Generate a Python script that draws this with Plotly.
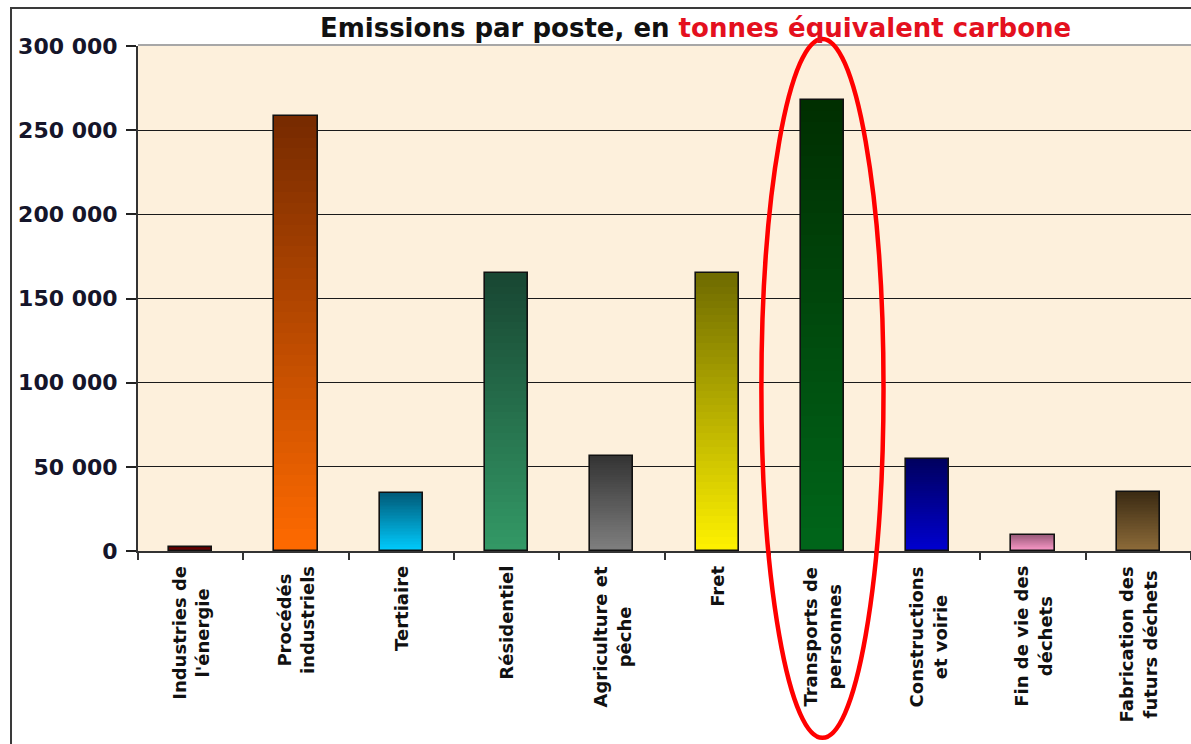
import plotly.graph_objects as go

# données
categories = [
    "Industries de l'énergie", "Procédés industriels", "Tertiaire", "Résidentiel",
    "Agriculture et pêche", "Fret", "Transports de personnes",
    "Constructions et voirie", "Fin de vie des déchets", "Fabrication des futurs déchets",
]
labels = [
    "Industries de<br>l'énergie", "Procédés<br>industriels", "Tertiaire", "Résidentiel",
    "Agriculture et<br>pêche", "Fret", "Transports de<br>personnes",
    "Constructions<br>et voirie", "Fin de vie des<br>déchets", "Fabrication des<br>futurs déchets",
]
emissions = [2500, 258500, 34500, 165000, 56500, 165000, 268000, 54800, 9500, 35200]
y_ticks = [0, 50000, 100000, 150000, 200000, 250000, 300000]

# dégradés : couleur en haut / couleur en bas
top_colors = ["#4a0000", "#762a00", "#005a78", "#184632", "#333333",
              "#6e6a00", "#002e00", "#00005e", "#9a5a7a", "#3a2a12"]
bottom_colors = ["#8a0000", "#ff6a00", "#00ccff", "#339966", "#808080",
                 "#fff200", "#00661a", "#0000d0", "#ff9ccc", "#8e6c3a"]

FONT = "DejaVu Sans, Verdana, sans-serif"
BAR_W = 0.41
N_STEPS = 40


def hex_rgb(h):
    h = h.lstrip("#")
    return [int(h[i:i + 2], 16) for i in (0, 2, 4)]


def mix(c_bottom, c_top, t):
    a, b = hex_rgb(c_bottom), hex_rgb(c_top)
    r = [round(a[i] + (b[i] - a[i]) * t) for i in range(3)]
    return f"rgb({r[0]},{r[1]},{r[2]})"


fig = go.Figure()

# dégradé vertical : barres superposées de plus en plus courtes
for k in range(N_STEPS):
    frac = (N_STEPS - k) / N_STEPS
    t = (N_STEPS - k - 0.5) / N_STEPS
    fig.add_trace(
        go.Bar(
            x=categories,
            y=[v * frac for v in emissions],
            width=BAR_W,
            marker=dict(
                color=[mix(b, tc, t) for b, tc in zip(bottom_colors, top_colors)],
                line=dict(width=0),
            ),
            hoverinfo="skip",
            showlegend=False,
        )
    )

# contour des barres
fig.add_trace(
    go.Bar(
        x=categories,
        y=emissions,
        width=BAR_W,
        marker=dict(color="rgba(0,0,0,0)", line=dict(color="#111111", width=1.6)),
        hovertemplate="%{x}<br>%{y:,} tCO2e<extra></extra>",
        showlegend=False,
    )
)

for cat, lab in zip(categories, labels):
    fig.add_annotation(
        x=cat, y=-0.026, xref="x", yref="paper",
        text=lab, textangle=-90, showarrow=False,
        xanchor="center", yanchor="top", align="center",
        font=dict(family=FONT, size=18, color="#111111", weight="bold"),
    )

# cadre extérieur
fig.add_shape(type="rect", xref="paper", yref="paper",
              x0=-0.1206, x1=1.05, y0=-0.6, y1=1.0752,
              line=dict(color="#3a3a3a", width=2), layer="above")
# bord supérieur de la zone de tracé
fig.add_shape(type="line", xref="paper", yref="paper",
              x0=0, x1=1.05, y0=1.002, y1=1.002,
              line=dict(color="#8a8a8a", width=1.5))
# ellipse rouge autour des transports de personnes
fig.add_shape(type="circle", xref="x", yref="paper",
              x0=5.42, x1=6.58, y0=-0.370, y1=1.014,
              line=dict(color="#ff0000", width=4.5), layer="above")

fig.update_layout(
    width=1191, height=744,
    barmode="overlay",
    bargap=0,
    separators=", ",
    paper_bgcolor="white",
    plot_bgcolor="#fdf0dc",
    margin=dict(l=138, r=0, t=46, b=193),
    font=dict(family=FONT, color="#111111"),
    title=dict(
        text="Emissions par poste, en <span style='color:#e4101e'>tonnes équivalent carbone</span>",
        font=dict(family=FONT, size=26, color="#111111", weight="bold"),
        x=0.584, xanchor="center", y=0.962, yanchor="middle",
    ),
    showlegend=False,
)

fig.update_xaxes(
    type="category",
    showticklabels=False,
    tickson="boundaries",
    ticks="outside", ticklen=7, tickwidth=1.5, tickcolor="#333333",
    showline=True, linecolor="#333333", linewidth=2,
    showgrid=False,
)
fig.update_yaxes(
    range=[0, 300000],
    tickvals=y_ticks,
    tickformat=",",
    ticks="outside", ticklen=10, tickwidth=1.5, tickcolor="#222222",
    ticklabelstandoff=4,
    tickfont=dict(family=FONT, size=22, color="#15152a", weight="bold"),
    showline=True, linecolor="#333333", linewidth=2,
    showgrid=True, gridcolor="#1a1a1a", gridwidth=1,
    zeroline=False,
)

fig.write_html(
    "out.html",
    config={"displayModeBar": False},
    post_script="document.body.style.margin='0';document.body.style.overflow='hidden';",
)
